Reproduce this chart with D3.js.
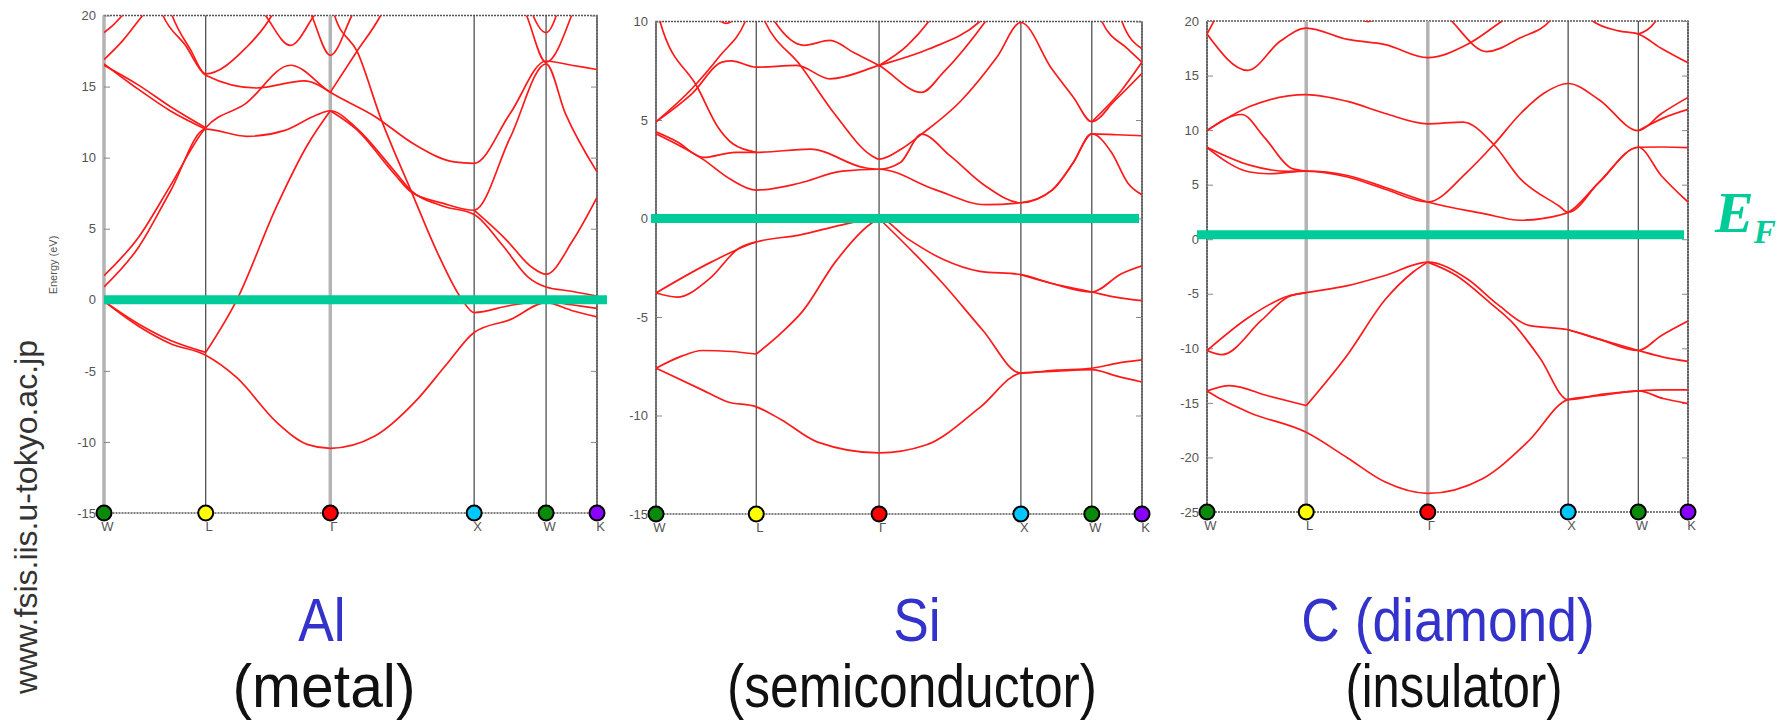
<!DOCTYPE html>
<html>
<head>
<meta charset="utf-8">
<script src="https://cdn.jsdelivr.net/npm/d3@7/dist/d3.min.js"></script>
<style>
  body { margin: 0; background: #fff; }
  svg { display: block; }
</style>
</head>
<body>
<svg id="chart" width="1781" height="721"></svg>
<script>
// k-path through the fcc Brillouin zone: W - L - Γ - X - W - K
const kLabels = ["W", "L", "Γ", "X", "W", "K"];
const kDist = [0, 0.707, 1.573, 2.573, 3.073, 3.427];
const kColors = ["#0a8a0a", "#ffff00", "#ff0000", "#00c8ff", "#0a8a0a", "#8a00ff"];

const alTicks = [-15, -10, -5, 0, 5, 10, 15, 20];
const siTicks = [-15, -10, -5, 0, 5, 10];
const cTicks = [-25, -20, -15, -10, -5, 0, 5, 10, 15, 20];

const materials = ["Al", "Si", "C (diamond)"];
const kinds = ["(metal)", "(semiconductor)", "(insulator)"];
const fermiLevels = [0, 0, 0.4];

// band curves: [path position (0=W,1=L,2=Γ,3=X,4=W,5=K), energy eV]
const alBands = [
  [[0,-0.1],[0.34,-1.86],[0.65,-3.07],[1,-3.9],[1.25,-5.48],[1.57,-8.62],[1.82,-10.19],[2,-10.45],[2.31,-9.59],[2.59,-7.17],[2.81,-4.52],[3,-2.3],[3.51,-1.38],[4,-0.2],[4.5,-0.75],[5,-1.2]],
  [[0,-0.1],[0.34,-1.7],[0.65,-2.85],[1,-3.7]],
  [[1,-3.7],[1.25,0],[1.57,6.59],[1.82,10.94],[2,13.3]],
  [[0,0.9],[0.34,3.7],[0.65,7.6],[1,12.0],[1.33,11.5],[1.63,11.9],[1.89,13.0],[2,13.3],[2.18,12.1],[2.45,9.0],[2.56,7.7],[2.78,6.6],[3,6.0],[3.4,3.8],[3.75,1.6],[4,0.9],[4.5,0.6],[5,0.25]],
  [[0,1.7],[0.34,4.4],[0.65,8.0],[1,12.1],[1.32,13.8],[1.68,16.5],[2,14.6],[2.31,12.9],[2.59,10.9],[2.86,9.7],[3,9.6],[3.5,13.1],[4,16.8],[4.5,16.5],[5,16.2]],
  [[0,16.5],[0.34,15.1],[0.65,13.6],[1,12.1]],
  [[0,16.6],[0.34,14.8],[0.65,13.3],[1,12.0]],
  [[0,18.8],[0.1,19.4],[0.18,20],[0.3,21]],
  [[0,16.9],[0.18,18.2],[0.38,20.0],[0.5,21]],
  [[0.5,21.5],[0.58,20],[0.8,17.9],[1,15.8],[1.41,14.9],[1.79,15.4],[2,14.6]],
  [[0.6,21.5],[0.67,20],[0.85,17.6],[1,15.9],[1.32,17.7],[1.53,20],[1.6,21.2]],
  [[1.4,21],[1.48,20],[1.68,17.9],[1.87,20],[1.95,21]],
  [[1.8,21],[1.85,20],[2,17.2],[2.15,20],[2.2,21]],
  [[2,14.6],[2.18,17.4],[2.35,20],[2.4,21]],
  [[2,21.5],[2.03,20],[2.19,17.4],[2.35,12.8],[2.56,7.7],[2.75,3.2],[2.91,0.1],[3,-0.9],[3.5,-0.4],[4,-0.1],[4.5,-0.35],[5,-0.6]],
  [[2,13.3],[2.18,12.0],[2.45,8.8],[2.56,7.6],[2.78,6.8],[3,6.3],[3.5,11.4],[4,16.6],[4.38,13.1],[5,9.0]],
  [[3,6.3],[3.45,4.2],[3.8,2.3],[4,1.8],[4.53,4.2],[5,7.2]],
  [[3.65,21],[3.73,20],[4,16.7],[4.5,20],[4.6,21]],
  [[3.75,21],[3.82,20],[4,18.8],[4.2,20],[4.28,21]]
];

const siBands = [
  [[0,-7.6],[0.46,-8.7],[0.71,-9.3],[1,-9.56],[1.2,-10.2],[1.5,-11.35],[2,-11.9],[2.33,-11.5],[2.71,-9.6],[3,-7.85],[3.5,-7.75],[4,-7.67],[4.5,-8.0],[5,-8.3]],
  [[0,-7.6],[0.25,-7.0],[0.46,-6.7],[0.75,-6.75],[1,-6.88]],
  [[1,-6.88],[1.2,-5.83],[1.38,-4.69],[1.64,-2.24],[1.94,-0.23],[2,0]],
  [[2,0],[2.45,-3.3],[2.73,-5.66],[3,-7.85],[3.5,-7.7],[4,-7.6],[4.5,-7.35],[5,-7.18]],
  [[0,-3.78],[0.21,-3.99],[0.54,-3.03],[0.82,-1.54],[1,-1.19]],
  [[0,-3.78],[0.54,-2.24],[1,-1.19],[1.35,-0.84],[1.7,-0.32],[2,0],[2.2,-1.02],[2.45,-2.07],[2.71,-2.68],[3,-2.85],[3.44,-3.3],[4,-3.73],[4.59,-2.8],[5,-2.4]],
  [[3,-2.85],[3.44,-3.3],[4,-3.73],[4.5,-4.0],[5,-4.17]],
  [[0,4.3],[0.47,3.0],[0.74,2.0],[1,1.44],[1.35,1.79],[1.7,2.4],[2,2.5],[2.39,1.48],[2.75,0.7],[3,0.8],[3.44,1.44],[3.74,2.84],[4,4.3],[4.39,3.36],[4.72,1.79],[5,1.2]],
  [[0,4.4],[0.21,3.9],[0.47,3.1],[0.79,3.36],[1,3.36],[1.44,3.52],[1.88,2.58],[2,2.5],[2.15,2.84],[2.3,4.28],[2.5,3.19],[2.75,1.65],[3,0.8],[3.44,1.44],[3.74,2.84],[4,4.3],[4.5,4.25],[5,4.2]],
  [[1.0,11],[1.07,10],[1.36,7.77],[1.64,5.29],[1.94,3.19],[2,3.01],[2.16,3.54],[2.3,4.28],[2.58,5.99],[2.83,8.18],[3,9.95],[3.44,7.57],[3.74,6.16],[4,4.91],[4.46,5.99],[5,7.37]],
  [[4,4.91],[4.59,6.5],[5,7.94]],
  [[0,4.91],[0.36,6.34],[0.66,7.94],[0.75,8.0],[1,7.68],[1.33,7.77],[1.6,7.09],[2,7.77],[2.35,8.6],[2.71,10],[2.78,10.5]],
  [[0,4.91],[0.36,6.6],[0.64,8.27],[0.89,10],[0.95,10.8]],
  [[0,11],[0.04,10],[0.42,6.6],[0.61,4.7],[0.77,3.78],[1,3.36]],
  [[0.6,10.2],[0.7,9.9],[0.8,10.2]],
  [[1.1,10.5],[1.15,10],[1.39,8.79],[1.6,9.04],[1.8,8.4],[2,7.77],[2.3,6.4],[2.45,7.39],[2.75,10],[2.8,10.5]],
  [[2,7.77],[2.2,8.79],[2.35,10],[2.4,10.5]],
  [[4.15,10.5],[4.2,10],[4.72,8.6],[5,7.94]],
  [[4.55,10.5],[4.6,10],[5,8.62]]
];

const cBands = [
  [[0,-13.9],[0.15,-14.7],[0.43,-15.9],[1,-17.7],[1.34,-20.05],[1.65,-22.26],[2,-23.3],[2.39,-21.95],[2.72,-18.47],[3,-14.7],[3.5,-14.3],[4,-13.9],[4.5,-14.6],[5,-15.06]],
  [[0,-13.9],[0.23,-13.42],[0.62,-14.37],[1,-15.25]],
  [[1,-15.25],[1.34,-10.58],[1.65,-5.53],[1.88,-3.0],[2,-2.1]],
  [[2,-2.1],[2.2,-3.3],[2.45,-5.9],[2.6,-7.6],[2.8,-10.9],[3,-14.7],[3.5,-14.2],[4,-13.9],[4.5,-13.8],[5,-13.8]],
  [[0,-10.2],[0.43,-7.1],[0.82,-5.2],[1,-4.9],[1.34,-4.26],[1.65,-3.32],[2,-2.1],[2.28,-3.63],[2.5,-6.0],[2.72,-7.9],[3,-8.3],[3.44,-9.16],[4,-10.2],[4.46,-8.84],[5,-7.5]],
  [[0,-10.2],[0.15,-10.58],[0.55,-7.42],[0.82,-5.27],[1,-4.9]],
  [[3,-8.3],[3.44,-9.16],[4,-10.2],[4.5,-10.8],[5,-11.2]],
  [[0,8.43],[0.43,6.79],[0.82,6.22],[1,6.25],[1.34,5.84],[1.65,4.74],[2,3.41],[2.39,2.37],[2.66,1.74],[2.94,2.21],[3,2.46],[3.44,5.21],[4,8.43],[4.5,8.45],[5,8.4]],
  [[0,8.4],[0.43,6.16],[0.62,6.0],[1,6.25],[1.34,5.7],[1.65,4.58],[2,3.41],[2.28,6.16],[2.47,8.68],[2.66,11.5],[2.83,13.4],[3,14.27],[3.44,12.79],[4,9.95],[4.46,11.5],[5,13.0]],
  [[0,9.95],[0.35,11.43],[0.58,9.31],[0.86,6.47],[1,6.25]],
  [[0,9.95],[0.43,12.16],[1,13.26],[1.34,12.63],[1.65,11.52],[2,10.58],[2.25,10.74],[2.47,8.68],[2.66,5.53],[2.94,3.0],[3,2.46],[3.44,5.21],[4,8.43],[4.46,5.84],[5,3.41]],
  [[4,9.95],[4.5,11.1],[5,11.9]],
  [[0,18.8],[0.41,15.47],[0.74,18.16],[1,19.35],[1.34,18.31],[1.65,17.84],[2,16.64],[2.28,17.84],[2.53,20],[2.6,20.6]],
  [[0,18.8],[0.07,20],[0.12,21]],
  [[2.1,21],[2.17,20],[2.42,17.2],[2.66,18.47],[2.87,20],[2.93,21]],
  [[3.28,21],[3.35,20],[3.72,19.1],[4,18.8],[4.46,17.5],[5,16.17]],
  [[4,18.8],[4.35,20],[4.45,21]],
  [[1.4,20.5],[1.51,19.95],[1.62,20.5]]
];

// layout of the three panels
const panels = [
  { bands: alBands, ticks: alTicks, left: 104, right: 597, top: 15.5, bottom: 513, thick: [0, 2], efFrom: 104, efTo: 607, titleX: 322, kindX: 324, kindW: 183 },
  { bands: siBands, ticks: siTicks, left: 656, right: 1142, top: 21.5, bottom: 514, thick: [], efFrom: 651, efTo: 1139, titleX: 917, kindX: 912, kindW: 370 },
  { bands: cBands, ticks: cTicks, left: 1207, right: 1688, top: 21, bottom: 512, thick: [1, 2], efFrom: 1197, efTo: 1684, titleX: 1448, kindX: 1454, kindW: 217 }
];

const svg = d3.select("#chart");
const green = "#00cc99";
const font = "'Liberation Sans', Arial, Helvetica, sans-serif";

panels.forEach((p, i) => {
  const kMax = kDist[kDist.length - 1];
  const x = d3.scaleLinear()
    .domain(d3.range(kDist.length))
    .range(kDist.map(d => p.left + (p.right - p.left) * d / kMax));
  const y = d3.scaleLinear()
    .domain([p.ticks[0], p.ticks[p.ticks.length - 1]])
    .range([p.bottom, p.top]);

  const g = svg.append("g").attr("class", "panel");

  g.append("clipPath").attr("id", "clip" + i)
    .append("rect")
    .attr("x", p.left).attr("y", p.top)
    .attr("width", p.right - p.left).attr("height", p.bottom - p.top);

  // frame
  g.append("rect")
    .attr("x", p.left).attr("y", p.top)
    .attr("width", p.right - p.left).attr("height", p.bottom - p.top)
    .attr("fill", "none")
    .attr("stroke", "#555")
    .attr("stroke-width", 1.3)
    .attr("stroke-dasharray", "2,1");

  // symmetry point lines
  g.selectAll("line.sym").data(d3.range(kDist.length)).join("line")
    .attr("class", "sym")
    .attr("x1", d => x(d)).attr("x2", d => x(d))
    .attr("y1", p.top).attr("y2", p.bottom)
    .attr("stroke", d => p.thick.includes(d) ? "#b4b4b4" : "#444")
    .attr("stroke-width", d => p.thick.includes(d) ? 3.5 : 1.2);

  // y axis ticks, left with labels, right without
  g.append("g")
    .attr("transform", `translate(${p.left},0)`)
    .call(d3.axisLeft(y).tickValues(p.ticks).tickFormat(d => String(d))
      .tickSizeInner(-6).tickSizeOuter(0).tickPadding(8))
    .call(a => a.select(".domain").remove())
    .call(a => a.selectAll("line").attr("stroke", "#888"))
    .call(a => a.selectAll("text").attr("fill", "#555").style("font", `13px ${font}`));

  g.append("g")
    .attr("transform", `translate(${p.right},0)`)
    .call(d3.axisRight(y).tickValues(p.ticks).tickSizeInner(-6).tickSizeOuter(0).tickFormat(""))
    .call(a => a.select(".domain").remove())
    .call(a => a.selectAll("line").attr("stroke", "#888"));

  // bands
  const line = d3.line()
    .x(d => x(d[0]))
    .y(d => y(d[1]))
    .curve(d3.curveMonotoneX);

  g.append("g").attr("clip-path", `url(#clip${i})`)
    .selectAll("path").data(p.bands).join("path")
    .attr("d", line)
    .attr("fill", "none")
    .attr("stroke", "#ff1a1a")
    .attr("stroke-width", 1.7);

  // Fermi level
  g.append("line")
    .attr("x1", p.efFrom).attr("x2", p.efTo)
    .attr("y1", y(fermiLevels[i])).attr("y2", y(fermiLevels[i]))
    .attr("stroke", green)
    .attr("stroke-width", 9);

  // k labels
  g.append("g")
    .attr("transform", `translate(0,${p.bottom})`)
    .call(d3.axisBottom(x).tickValues(d3.range(kLabels.length)).tickFormat(d => kLabels[d]).tickSize(0).tickPadding(9))
    .call(a => a.select(".domain").remove())
    .call(a => a.selectAll("text").attr("dx", 3).attr("fill", "#555").style("font", `13px ${font}`));

  // symmetry point markers
  g.selectAll("circle.kpt").data(d3.range(kLabels.length)).join("circle")
    .attr("class", "kpt")
    .attr("cx", d => x(d)).attr("cy", p.bottom)
    .attr("r", 7.5)
    .attr("fill", d => kColors[d])
    .attr("stroke", "#000")
    .attr("stroke-width", 2);

  // titles
  svg.append("text")
    .attr("transform", `translate(${p.titleX},641) scale(0.86,1)`)
    .attr("text-anchor", "middle")
    .attr("fill", "#3333cc")
    .style("font", `62px ${font}`)
    .text(materials[i]);

  svg.append("text")
    .attr("x", p.kindX - p.kindW / 2).attr("y", 707)
    .attr("textLength", p.kindW)
    .attr("lengthAdjust", "spacingAndGlyphs")
    .attr("fill", "#111")
    .style("font", `61px ${font}`)
    .text(kinds[i]);
});

// axis caption on the first panel
svg.append("text")
  .attr("transform", "translate(57,265) rotate(-90)")
  .attr("text-anchor", "middle")
  .attr("fill", "#555")
  .style("font", `11px ${font}`)
  .text("Energy (eV)");

// E_F label
const ef = svg.append("text")
  .attr("x", 1715).attr("y", 232)
  .attr("fill", green)
  .style("font", "bold italic 58px 'Liberation Serif', 'Times New Roman', serif");
ef.append("tspan").text("E");
ef.append("tspan").attr("dy", 11).style("font-size", "33px").text("F");

// site watermark
svg.append("text")
  .attr("transform", "translate(37,517) rotate(-90)")
  .attr("text-anchor", "middle")
  .attr("fill", "#333")
  .style("font", `32px ${font}`)
  .text("www.fsis.iis.u-tokyo.ac.jp");
</script>
</body>
</html>
